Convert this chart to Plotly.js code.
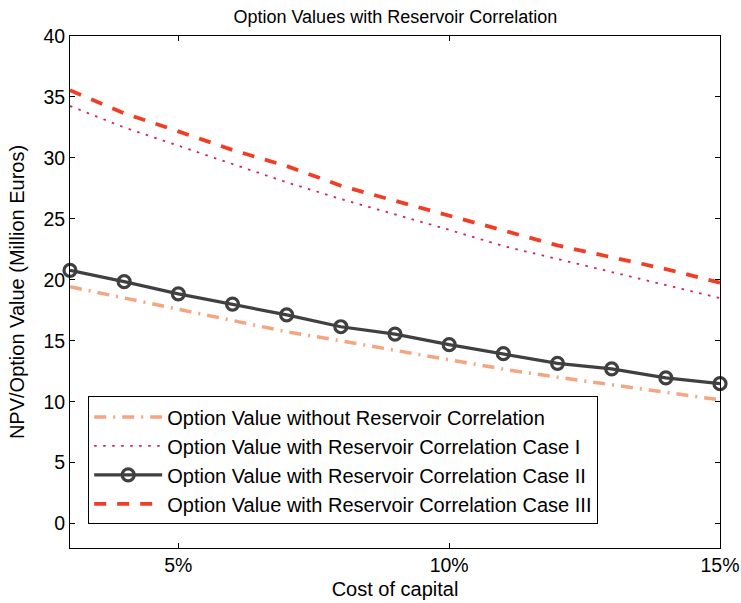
<!DOCTYPE html>
<html>
<head>
<meta charset="utf-8">
<script src="https://cdn.plot.ly/plotly-3.0.1.min.js"></script>
<style>html,body{margin:0;padding:0;background:#fff;}#chart{width:741px;height:603px;}</style>
</head>
<body>
<div id="chart"></div>
<script>
// Cost of capital (%)
var costOfCapital = [3, 4, 5, 6, 7, 8, 9, 10, 11, 12, 13, 14, 15];
var xTickVals = [5, 10, 15];
var xTickText = ['5%', '10%', '15%'];

var seriesNames = [
  'Option Value without Reservoir Correlation',
  'Option Value with Reservoir Correlation Case I',
  'Option Value with Reservoir Correlation Case II',
  'Option Value with Reservoir Correlation Case III'
];
var withoutCorrelation = [19.43, 18.5, 17.59, 16.67, 15.74, 14.99, 14.2, 13.42, 12.67, 12.01, 11.39, 10.77, 10.15];
var caseI   = [34.26, 32.5, 31.0, 29.47, 28.0, 26.63, 25.37, 24.1, 22.77, 21.68, 20.64, 19.57, 18.5];
var caseII  = [20.77, 19.85, 18.85, 18.01, 17.12, 16.15, 15.55, 14.68, 13.94, 13.15, 12.7, 11.96, 11.48];
var caseIII = [35.55, 33.66, 32.18, 30.65, 29.33, 27.72, 26.48, 25.23, 24.05, 22.82, 21.86, 20.88, 19.76];

var font = 'Liberation Sans, Arial, Helvetica, sans-serif';

var traces = [
  {x: costOfCapital, y: withoutCorrelation, name: seriesNames[0], mode: 'lines',
   line: {color: '#F4A582', width: 3.5, dash: '12px,7px,2px,7px'}},
  {x: costOfCapital, y: caseI, name: seriesNames[1], mode: 'lines',
   line: {color: '#CF2457', width: 1.8, dash: '2.5px,6.5px'}},
  {x: costOfCapital, y: caseII, name: seriesNames[2], mode: 'lines+markers', cliponaxis: false,
   line: {color: '#404040', width: 3.2},
   marker: {symbol: 'circle-open', size: 12, color: '#404040', line: {width: 3.2, color: '#404040'}}},
  {x: costOfCapital, y: caseIII, name: seriesNames[3], mode: 'lines',
   line: {color: '#F23D26', width: 3.8, dash: '12px,11px'}}
];

var axisCommon = {
  showline: true, linecolor: '#000', linewidth: 1, mirror: 'ticks',
  ticks: 'inside', ticklen: 5, tickwidth: 1, tickcolor: '#000',
  showgrid: false, zeroline: false,
  tickfont: {family: font, size: 19.5, color: '#000'}
};

var layout = {
  width: 741, height: 603,
  margin: {l: 70, r: 21, t: 36, b: 55},
  paper_bgcolor: '#fff', plot_bgcolor: '#fff',
  font: {family: font, color: '#000'},
  title: {text: 'Option Values with Reservoir Correlation', x: 0.5335, xanchor: 'center', y: 0.973, yanchor: 'middle',
          font: {family: font, size: 18, color: '#000'}},
  xaxis: Object.assign({}, axisCommon, {
    range: [3, 15], tickvals: xTickVals, ticktext: xTickText,
    title: {text: 'Cost of capital', font: {family: font, size: 20, color: '#000'}, standoff: 6}
  }),
  yaxis: Object.assign({}, axisCommon, {
    range: [-2, 40], tick0: 0, dtick: 5,
    title: {text: 'NPV/Option Value (Million Euros)', font: {family: font, size: 20, color: '#000'}, standoff: 13}
  }),
  showlegend: true,
  legend: {
    x: 0.028, y: 0.296, xanchor: 'left', yanchor: 'top',
    bgcolor: '#fff', bordercolor: '#000', borderwidth: 1,
    font: {family: font, size: 20, color: '#000'},
    itemwidth: 68, tracegroupgap: 0
  }
};

Plotly.newPlot('chart', traces, layout, {displayModeBar: false, staticPlot: true});
</script>
</body>
</html>
